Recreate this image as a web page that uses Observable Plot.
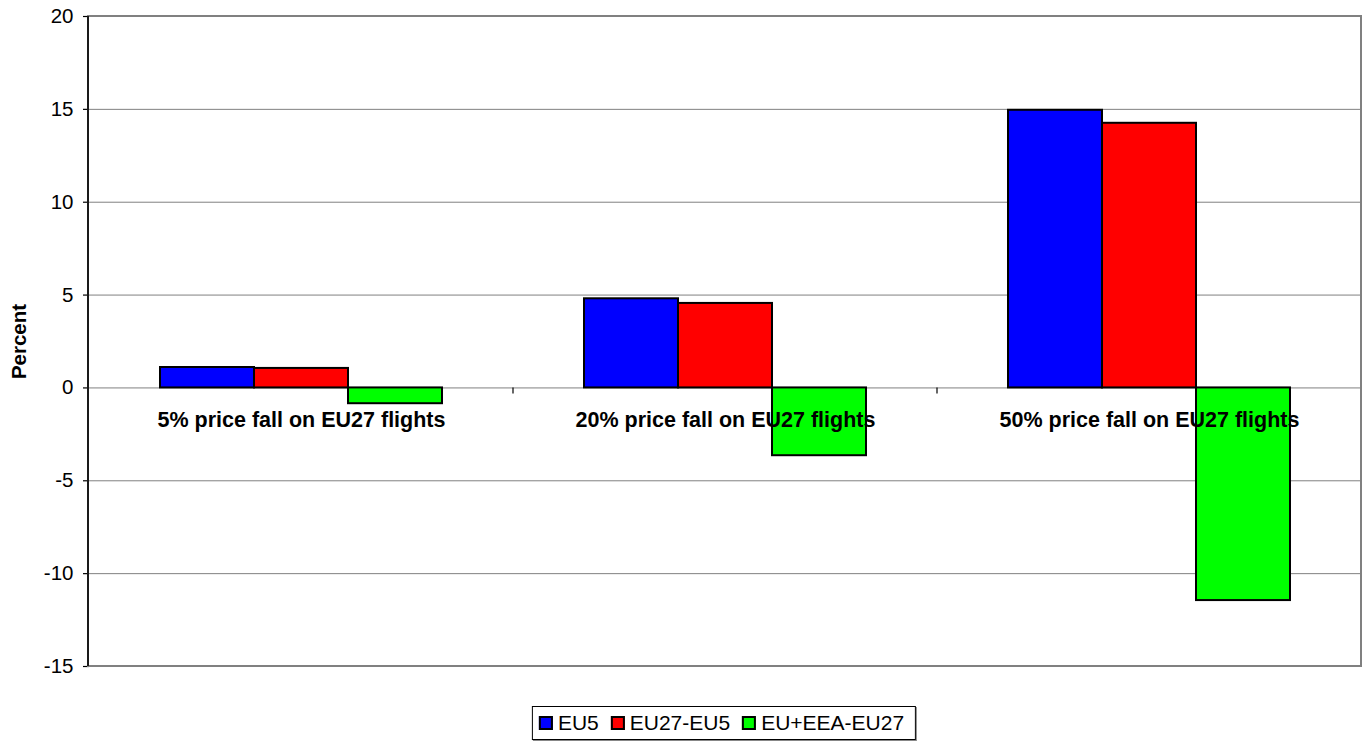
<!DOCTYPE html>
<html><head><meta charset="utf-8">
<script src="https://cdn.jsdelivr.net/npm/d3@7"></script>
<script src="https://cdn.jsdelivr.net/npm/@observablehq/plot@0.6"></script>
<style>
body{margin:0;background:#fff;font-family:"Liberation Sans",Arial,sans-serif;}
#chart{position:relative;width:1367px;height:742px;}
#legend{position:absolute;left:724px;top:706px;transform:translateX(-50%);border:1px solid #000;box-shadow:1px 1px 0 #888;
  display:flex;align-items:center;height:34px;box-sizing:border-box;padding:0 11px 0 6px;font-size:21px;white-space:nowrap;background:#fff;}
#legend .it{display:flex;align-items:center;margin-right:12px;}
#legend .it:last-child{margin-right:0;}
#legend .sw{width:14px;height:14px;box-sizing:border-box;border:2px solid #000;margin-right:5px;}
</style></head><body><div id="chart"></div>
<script>
const categories = ["5% price fall on EU27 flights","20% price fall on EU27 flights","50% price fall on EU27 flights"];
const series = ["EU5","EU27-EU5","EU+EEA-EU27"];
const colors = ["#0000ff","#ff0000","#00ff00"];
const eu5 = [1.1, 4.8, 14.95];
const eu27eu5 = [1.05, 4.55, 14.25];
const euEeaEu27 = [-0.85, -3.65, -11.45];
const yTicks = [-15,-10,-5,0,5,10,15,20];

const values = [eu5, eu27eu5, euEeaEu27];
const data = [];
categories.forEach((c,i)=>series.forEach((s,j)=>data.push({category:c, series:s, value:values[j][i]})));

const plot = Plot.plot({
  width:1367, height:690, marginTop:16, marginBottom:24, marginLeft:88, marginRight:6,
  style:{fontFamily:"'Liberation Sans', Arial, sans-serif", fontSize:"20px", background:"#fff", color:"#000"},
  fx:{domain:categories, padding:0, axis:null},
  x:{domain:series, paddingInner:0, paddingOuter:0.74, axis:null},
  y:{domain:[-15,20], axis:null},
  color:{domain:series, range:colors},
  marks:[
    Plot.gridY(yTicks, {stroke:"#808080", strokeOpacity:1, strokeWidth:1}),
    Plot.axisY(yTicks, {tickSize:6, tickPadding:10, label:null, fontSize:20.5, stroke:"#000", strokeWidth:1.2, tickFormat:d=>String(d)}),
    Plot.barY(data, {fx:"category", x:"series", y:"value", fill:"series", stroke:"#000", strokeWidth:2, inset:0}),
    Plot.text(categories, {fx:d=>d, y:()=>0, text:d=>d, dy:32, fontWeight:"bold", fontSize:21.5, fill:"#000"}),
    Plot.text(["Percent"], {fx:()=>categories[0], frameAnchor:"left", textAnchor:"middle", dx:-70, rotate:-90, fontWeight:"bold", fontSize:20.5, fill:"#000", text:d=>d})
  ]
});
document.getElementById("chart").appendChild(plot);

const svg = d3.select(plot.tagName.toLowerCase()==="svg" ? plot : plot.querySelector("svg"));
const fx = plot.scale("fx"), y = plot.scale("y");
const xs = fx.range, ys = y.range;
const yTop = Math.min(...ys), yBot = Math.max(...ys), xL = Math.min(...xs), xR = Math.max(...xs);
const y0 = y.apply(0);
const g = svg.append("g");
categories.slice(1).forEach(c=>{
  const bx = fx.apply(c);
  g.append("line").attr("x1",bx).attr("x2",bx).attr("y1",y0).attr("y2",y0+6).attr("stroke","#000").attr("stroke-width",1.2);
});
g.append("rect").attr("x",xL).attr("y",yTop).attr("width",xR-xL).attr("height",yBot-yTop)
  .attr("fill","none").attr("stroke","#808080").attr("stroke-width",2);
g.append("line").attr("x1",xL).attr("x2",xL).attr("y1",yTop).attr("y2",yBot).attr("stroke","#000").attr("stroke-width",1.6);

const legend = document.createElement("div");
legend.id = "legend";
series.forEach((s,i)=>{
  const it = document.createElement("div"); it.className="it";
  const sw = document.createElement("div"); sw.className="sw"; sw.style.background = colors[i];
  const t = document.createElement("span"); t.textContent = s;
  it.appendChild(sw); it.appendChild(t); legend.appendChild(it);
});
document.getElementById("chart").appendChild(legend);
</script>
</body></html>
